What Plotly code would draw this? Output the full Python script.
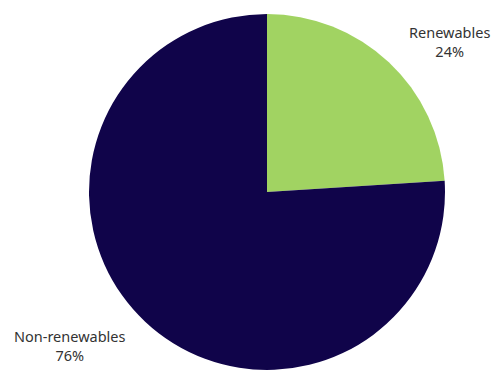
import plotly.graph_objects as go

labels = ["Renewables", "Non-renewables"]
shares = [24, 76]
colors = ["#a1d362", "#10044a"]

fig = go.Figure(
    go.Pie(
        labels=labels,
        values=shares,
        sort=False,
        direction="clockwise",
        rotation=0,
        marker=dict(colors=colors, line=dict(width=0)),
        textinfo="none",
        hoverinfo="label+percent",
        showlegend=False,
        domain=dict(x=[89 / 495, 445 / 495], y=[1 / 371, 357 / 371]),
    )
)

total = sum(shares)
label_pos = {"Renewables": (449 / 495, 1 - 41 / 371), "Non-renewables": (70 / 495, 1 - 345 / 371)}
for name, val in zip(labels, shares):
    x, y = label_pos[name]
    fig.add_annotation(
        x=x, y=y, xref="paper", yref="paper",
        xanchor="center", yanchor="middle",
        text=f"{name}<br>{round(100 * val / total)}%",
        showarrow=False,
        font=dict(family="Noto Sans", size=14.5, color="#333333"),
        align="center",
    )

fig.update_layout(
    width=495,
    height=371,
    margin=dict(l=0, r=0, t=0, b=0),
    paper_bgcolor="white",
    plot_bgcolor="white",
)

fig.write_html("out.html")
